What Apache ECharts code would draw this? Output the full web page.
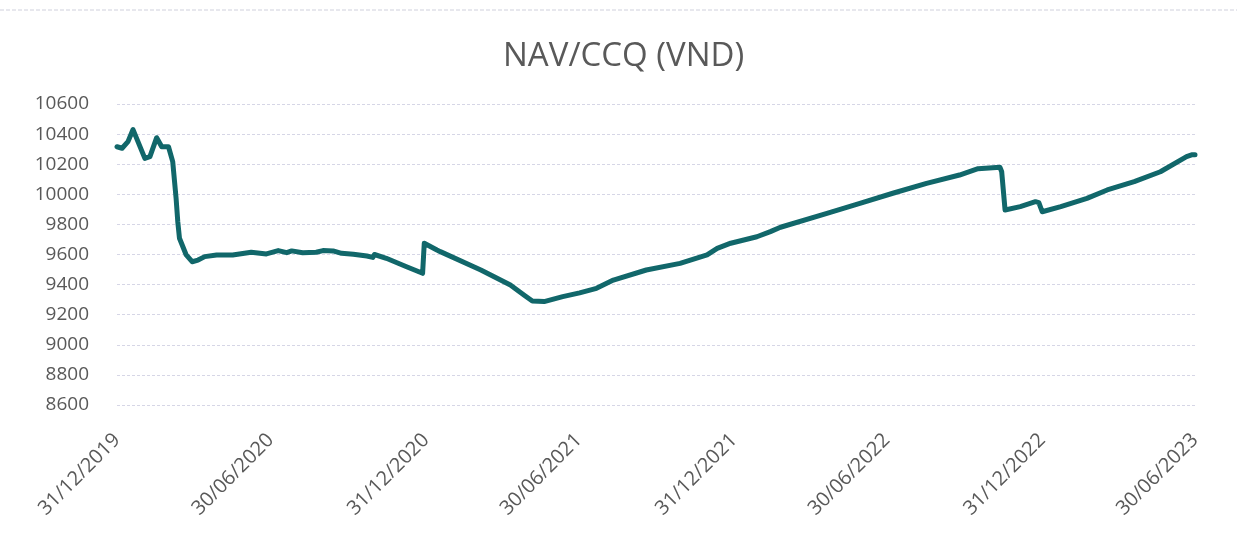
<!DOCTYPE html>
<html>
<head>
<meta charset="utf-8">
<script src="https://cdn.jsdelivr.net/npm/echarts@6/dist/echarts.min.js"></script>
<style>
html,body{margin:0;padding:0;background:#fff;}
#chart{width:1237px;height:535px;}
</style>
</head>
<body>
<div id="chart"></div>
<script>
const chartTitle = 'NAV/CCQ (VND)';
const dates = [
 '2019-12-31','2020-01-06','2020-01-13','2020-01-19','2020-02-02','2020-02-08','2020-02-16','2020-02-22',
 '2020-03-01','2020-03-06','2020-03-10','2020-03-12','2020-03-14','2020-03-22','2020-03-29','2020-04-05',
 '2020-04-13','2020-04-27','2020-05-16','2020-06-07','2020-06-25','2020-07-09','2020-07-19','2020-07-25',
 '2020-08-07','2020-08-23','2020-08-31','2020-09-12','2020-09-22','2020-10-06','2020-10-22','2020-10-29',
 '2020-10-31','2020-11-14','2020-12-08','2020-12-27','2020-12-29','2021-01-13','2021-01-17','2021-03-06',
 '2021-04-10','2021-04-26','2021-05-06','2021-05-20','2021-06-11','2021-07-01','2021-07-21','2021-08-10',
 '2021-09-18','2021-10-28','2021-11-29','2021-12-11','2021-12-27','2022-01-27','2022-02-12','2022-02-24',
 '2022-04-20','2022-05-29','2022-07-07','2022-08-16','2022-09-24','2022-10-16','2022-11-11','2022-11-13',
 '2022-11-17','2022-12-05','2022-12-23','2022-12-27','2022-12-31','2023-01-22','2023-02-22','2023-03-18',
 '2023-04-19','2023-05-20','2023-06-20','2023-06-26','2023-06-30'
];
const navValues = [
 10316,10306,10350,10430,10239,10250,10376,10316,
 10316,10217,9973,9818,9708,9597,9552,9563,
 9586,9597,9597,9615,9604,9626,9612,9624,
 9612,9615,9626,9624,9608,9602,9590,9581,
 9600,9575,9519,9475,9675,9630,9619,9497,
 9397,9331,9291,9287,9320,9345,9375,9430,
 9497,9541,9597,9641,9675,9718,9752,9781,
 9873,9940,10007,10073,10128,10170,10179,10150,
 9896,9918,9951,9945,9884,9918,9973,10029,
 10084,10150,10250,10262,10262
];
const tickDates = ['2019-12-31','2020-06-30','2020-12-31','2021-06-30','2021-12-31','2022-06-30','2022-12-31','2023-06-30'];
const yMin = 8600, yMax = 10600, yStep = 200;

function toTs(s){ const p = s.split('-').map(Number); return Date.UTC(p[0], p[1]-1, p[2]); }
function fmt(v){ const d = new Date(v); const dd = String(d.getUTCDate()).padStart(2,'0'); const mm = String(d.getUTCMonth()+1).padStart(2,'0'); return dd + '/' + mm + '/' + d.getUTCFullYear(); }

const seriesData = dates.map((d,i) => [toTs(d), navValues[i]]);
const tickTs = tickDates.map(toTs);

const chart = echarts.init(document.getElementById('chart'), null, {renderer:'canvas'});
chart.setOption({
  backgroundColor:'#ffffff',
  animation:false,
  title:{
    text: chartTitle, left:498, top:35,
    textStyle:{fontFamily:'Open Sans', fontSize:33, fontWeight:'normal', color:'#595959'}
  },
  grid:{left:117, right:42, top:104, bottom:130, containLabel:false, outerBoundsMode:'none'},
  xAxis:{
    type:'value',
    min: tickTs[0], max: tickTs[tickTs.length-1],
    axisLine:{show:false}, axisTick:{show:false},
    splitLine:{show:false},
    axisLabel:{
      customValues: tickTs,
      formatter: fmt, rotate:45, margin:32,
      fontFamily:'Open Sans', fontSize:20, color:'#595959',
      hideOverlap:false, showMinLabel:true, showMaxLabel:true
    }
  },
  yAxis:{
    type:'value', min:yMin, max:yMax, interval:yStep,
    axisLine:{show:false}, axisTick:{show:false},
    axisLabel:{fontFamily:'Open Sans', fontSize:19, color:'#595959', margin:28,
      formatter: v => String(v)},
    splitLine:{show:true, lineStyle:{color:'#d6d6e6', width:1, type:[3,2]}}
  },
  graphic:[{
    type:'line', shape:{x1:0,y1:10,x2:1237,y2:10},
    style:{stroke:'#cfd0dc', lineWidth:1, lineDash:[4,2]}, silent:true
  }],
  series:[{
    type:'line', data: seriesData, showSymbol:false, smooth:false,
    lineStyle:{color:'#11676a', width:5, cap:'round', join:'round'},
    itemStyle:{color:'#11676a'}
  }]
});
</script>
</body>
</html>
